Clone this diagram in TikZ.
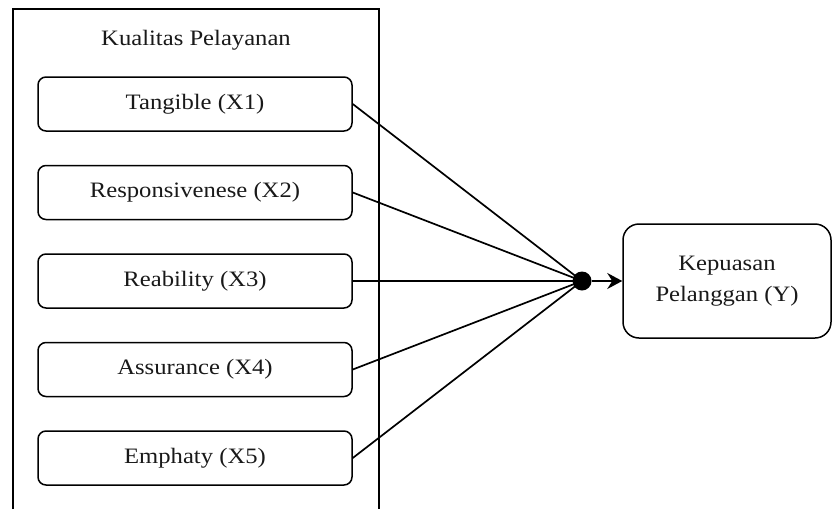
\documentclass[tikz,border=0pt]{standalone}
\usepackage{fontspec}
\setmainfont{Liberation Serif}[FakeStretch=1.12]
\usetikzlibrary{arrows.meta}
\tikzset{
  frame/.style={line width=1.4pt, black},
  dimbox/.style={draw, line width=1.5pt, rounded corners=8pt, minimum width=314pt, minimum height=54pt, inner sep=0pt, font=\fontsize{22}{31}\selectfont, text=black!90},
  ybox/.style={draw, line width=1.5pt, rounded corners=16pt, minimum width=208pt, minimum height=114pt, inner sep=0pt},
  txt/.style={font=\fontsize{22}{31}\selectfont, text=black!90, align=center, inner sep=0pt},
  link/.style={line width=1.7pt},
  hub/.style={circle, fill=black, minimum size=19pt, inner sep=0pt}
}
\begin{document}
\begin{tikzpicture}[x=1pt, y=-1pt]
\useasboundingbox (0,0) rectangle (833,509);
\fill[white] (0,0) rectangle (833,509);
\coordinate (fbl) at (13,509);
\coordinate (ftl) at (13,9);
\coordinate (ftr) at (379,9);
\coordinate (fbr) at (379,509);
\draw[frame] (fbl) -- (ftl) -- (ftr) -- (fbr);
\node[txt] (title) at (196,40) {Kualitas Pelayanan};
\node[dimbox] (x1) at (195,104) {Tangible (X1)};
\node[dimbox] (x2) at (195,192.5) {Responsivenese (X2)};
\node[dimbox] (x3) at (195,281) {Reability (X3)};
\node[dimbox] (x4) at (195,369.5) {Assurance (X4)};
\node[dimbox] (x5) at (195,458) {Emphaty (X5)};
\node[hub] (dot) at (582,281) {};
\node[ybox] (Y) at (727,281) {};
\node[txt] (ytext) at (727,281) {Kepuasan\\Pelanggan (Y)};
\foreach \b in {x1,x2,x3,x4,x5} \draw[link] (\b.east) -- (dot.center);
\draw[link, -{Stealth[length=15pt, width=16pt, inset=5pt]}] (dot) -- (Y.west);
\end{tikzpicture}
\end{document}
